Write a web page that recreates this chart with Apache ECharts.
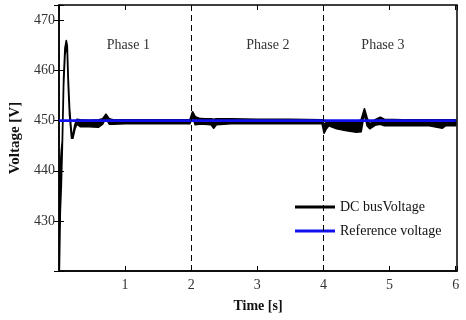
<!DOCTYPE html>
<html>
<head>
<meta charset="utf-8">
<script src="https://cdn.jsdelivr.net/npm/echarts@6/dist/echarts.min.js"></script>
<style>html,body{margin:0;padding:0;background:#fff}#c{width:466px;height:320px}</style>
</head>
<body>
<div id="c"></div>
<script>
// ---- data ----
var time = [0, 0.005, 0.02, 0.035, 0.05, 0.07, 0.09, 0.11, 0.125, 0.14, 0.16, 0.19, 0.21, 0.24, 0.27, 0.32, 0.45, 0.6, 0.66, 0.71, 0.76, 0.82, 1.0, 1.5, 1.98, 2.02, 2.06, 2.12, 2.2, 2.3, 2.34, 2.38, 2.6, 3.0, 3.5, 3.98, 4.01, 4.04, 4.08, 4.2, 4.35, 4.5, 4.57, 4.62, 4.66, 4.7, 4.78, 4.86, 4.92, 5.2, 5.6, 5.8, 5.85, 5.95, 6.0];
// DC bus voltage ripple band: upper and lower envelope (V)
var dcUpper = [420, 440, 441, 444, 446, 458.5, 464.5, 466, 465, 458.5, 452.5, 447.5, 447.2, 449.2, 450.3, 450.2, 450.1, 450.2, 450.4, 451.3, 450.4, 450.2, 450.2, 450.2, 450.2, 451.8, 450.8, 450.5, 450.4, 450.4, 450.3, 450.4, 450.4, 450.3, 450.3, 450.2, 449.3, 449.6, 449.9, 449.8, 449.7, 449.7, 450.2, 452.4, 450.6, 449.3, 450.2, 450.7, 450.3, 450.2, 450.2, 450.2, 450.2, 450.2, 450.2];
var dcLower = [420, 420, 432, 437, 444.5, 457, 463, 465, 463.5, 457, 451, 446.5, 446.5, 448.3, 449.3, 448.8, 448.8, 448.7, 449.3, 450.5, 449.3, 449.3, 449.4, 449.4, 449.4, 450.8, 449.2, 449.3, 449.3, 449.2, 448.5, 449.2, 449.4, 449.4, 449.4, 449.4, 447.5, 448.3, 449.0, 448.4, 448.0, 447.7, 447.8, 451.5, 449.0, 448.4, 449.1, 449.3, 449.0, 449.0, 449.0, 448.5, 449.0, 449.0, 449.0];
var refTime = [0, 6];
var refVoltage = [450, 450];
var phaseBoundaries = [2, 4];
var phaseLabels = ['Phase 1', 'Phase 2', 'Phase 3'];
var phaseLabelX = [1.05, 3.16, 4.9];
var phaseLabelY = [465, 465, 465];
var xTicks = [1, 2, 3, 4, 5, 6];
var yTicks = [430, 440, 450, 460, 470];

var FONT = '"Liberation Serif", "DejaVu Serif", serif';

var bandData = time.map(function (t, i) { return [t, dcLower[i], dcUpper[i]]; });
var refData = refTime.map(function (t, i) { return [t, refVoltage[i]]; });

var chart = echarts.init(document.getElementById('c'), null, {renderer: 'canvas'});

var gridPos = {left: 58, right: 9, top: 5, bottom: 49};

function xFmt(v) { return xTicks.indexOf(Math.round(v * 1000) / 1000) >= 0 ? String(v) : ''; }
function yFmt(v) { return yTicks.indexOf(Math.round(v * 1000) / 1000) >= 0 ? String(v) : ''; }

function renderBand(params, api) {
  if (params.dataIndex !== 0) return null;
  var up = [], lo = [];
  for (var i = 0; i < bandData.length; i++) {
    up.push(api.coord([bandData[i][0], bandData[i][2]]));
    lo.push(api.coord([bandData[i][0], bandData[i][1]]));
  }
  var pts = up.concat(lo.reverse());
  return {
    type: 'polygon',
    shape: {points: pts},
    style: {fill: '#000', stroke: '#000', lineWidth: 1.6, lineJoin: 'round'}
  };
}

var option = {
  animation: false,
  backgroundColor: '#fff',
  grid: Object.assign({show: true, borderColor: '#000', borderWidth: 1.5, backgroundColor: 'transparent'}, gridPos),
  legend: {
    data: ['DC busVoltage', 'Reference voltage'],
    orient: 'vertical',
    left: 295,
    top: 200,
    padding: 0,
    itemGap: 10,
    itemWidth: 40,
    itemHeight: 3,
    icon: 'rect',
    textStyle: {fontFamily: FONT, fontSize: 14, color: '#111'},
    backgroundColor: 'transparent'
  },
  xAxis: [{
    type: 'value', min: 0, max: 6.02, interval: 1,
    name: 'Time [s]', nameLocation: 'middle', nameGap: 28,
    nameTextStyle: {fontFamily: FONT, fontSize: 14, fontWeight: 'bold', color: '#111'},
    axisLine: {show: true, lineStyle: {color: '#000', width: 1.5}},
    axisTick: {show: true, inside: true, length: 5, lineStyle: {color: '#000', width: 1}},
    axisLabel: {formatter: xFmt, fontFamily: FONT, fontSize: 14, color: '#333', margin: 7, showMinLabel: false},
    splitLine: {show: false}
  }, {
    type: 'value', position: 'top', min: 0, max: 6.02, interval: 1,
    axisLine: {show: false},
    axisTick: {show: true, inside: true, length: 5, lineStyle: {color: '#000', width: 1}},
    axisLabel: {show: false},
    splitLine: {show: false}
  }],
  yAxis: [{
    type: 'value', min: 420, max: 473.1, interval: 10,
    name: 'Voltage [V]', nameLocation: 'middle', nameGap: 36,
    nameTextStyle: {fontFamily: FONT, fontSize: 15, fontWeight: 'bold', color: '#111'},
    axisLine: {show: true, lineStyle: {color: '#000', width: 1.5}},
    axisTick: {show: true, inside: true, length: 5, lineStyle: {color: '#000', width: 1}},
    axisLabel: {formatter: yFmt, fontFamily: FONT, fontSize: 14, color: '#333', margin: 4},
    splitLine: {show: false}
  }, {
    type: 'value', position: 'right', min: 420, max: 473.1, interval: 10,
    axisLine: {show: false},
    axisTick: {show: true, inside: true, length: 5, lineStyle: {color: '#000', width: 1}},
    axisLabel: {show: false},
    splitLine: {show: false}
  }],
  series: [
    {
      name: 'DC busVoltage', type: 'custom', data: bandData,
      renderItem: renderBand, color: '#000', z: 3, silent: true,
      encode: {x: 0, y: [1, 2]}, clip: true,
      markLine: {
        silent: true, symbol: 'none', label: {show: false},
        lineStyle: {color: '#000', type: [6, 4], width: 1},
        data: phaseBoundaries.map(function (b) { return {xAxis: b}; })
      }
    },
    {
      name: 'Reference voltage', type: 'line', data: refData,
      showSymbol: false, symbol: 'none', color: '#1010ee',
      lineStyle: {color: '#1010ee', width: 2.8}, z: 4,
      markPoint: {
        symbol: 'circle', symbolSize: 0, silent: true,
        label: {show: true, position: 'inside', fontFamily: FONT, fontSize: 14, color: '#333',
                formatter: function (p) { return p.name; }},
        data: phaseLabels.map(function (n, i) { return {name: n, coord: [phaseLabelX[i], phaseLabelY[i]]}; })
      }
    }
  ]
};
chart.setOption(option);
</script>
</body>
</html>
